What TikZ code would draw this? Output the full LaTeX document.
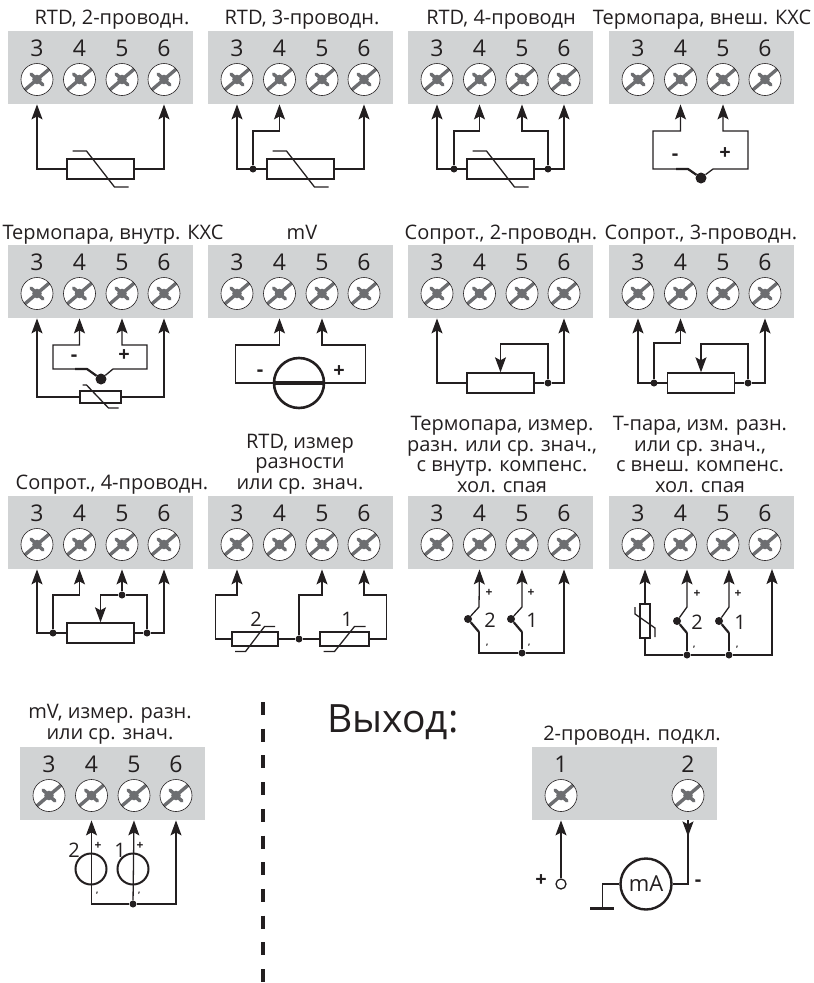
\documentclass[tikz,border=0pt]{standalone}
\usepackage{fontspec}
\setmainfont{Open Sans}
\usepackage{xcolor}
\usepackage{tikz}
\usetikzlibrary{arrows.meta,calc}
\definecolor{blockgray}{HTML}{D1D3D4}
\definecolor{slotgray}{HTML}{6D6E71}
\definecolor{ink}{HTML}{231F20}

\tikzset{
    block/.style={fill=blockgray, minimum width=185pt, minimum height=73pt, inner sep=0pt, anchor=north west},
    digit/.style={text=ink, inner sep=0pt, font=\fontsize{23}{23}\selectfont},
    screw/.style={circle, draw=ink, fill=white, line width=0.6pt, minimum size=32pt, inner sep=0pt,
        path picture={
            \begin{scope}[shift={(path picture bounding box.center)}]
                \draw[slotgray, line width=3.4pt] (-17,14.5) -- (17,-14.5);
                \draw[slotgray, line width=3.4pt, line cap=round] (-6,-5.5) -- (6,5.5);
                \fill[slotgray] (0,0) circle (4.8pt);
            \end{scope}
        }},
    title/.style={text=ink, inner sep=0pt, anchor=base, align=center, font=\fontsize{20}{20.5}\selectfont},
    sign/.style={text=ink, inner sep=0pt, font=\bfseries\fontsize{20}{20}\selectfont},
    smallsign/.style={text=ink, inner sep=0pt, font=\bfseries\fontsize{12}{12}\selectfont},
    minustick/.style={text=ink, inner sep=0pt, font=\bfseries\fontsize{9}{9}\selectfont},
    number/.style={text=ink, inner sep=0pt, font=\fontsize{20}{20}\selectfont},
    wire/.style={draw=ink, line width=1.3pt},
    tcwire/.style={draw=ink, line width=2.2pt},
    pinwire/.style={wire, -{Stealth[length=15pt,width=11pt,inset=3pt]}},
    res/.style={draw=ink, line width=1.4pt, inner sep=0pt, minimum width=67pt, minimum height=20pt},
    smallres/.style={res, minimum width=41pt, minimum height=12pt},
    jdot/.style={circle, fill=ink, minimum size=7pt, inner sep=0pt},
    tcdot/.style={circle, fill=ink, minimum size=11pt, inner sep=0pt},
}

\newcommand{\termblock}[3]{
    \node[block] (#1) at (#2,#3) {};
    \foreach \n/\dx in {3/29,4/71.5,5/114,6/156} {
        \node[digit] (#1d\n) at (#2+\dx,#3+17.5) {\n};
        \node[screw] (#1\n) at (#2+\dx,#3+48.5) {};
    }
}
\newcommand{\tempbar}[4]{
    \draw[wire] ([shift={(-#2,-#3)}]#1.center) -- ([shift={(-#4,-#3)}]#1.center) -- ([shift={(#4,#3)}]#1.center) -- ([shift={(#2,#3)}]#1.center);
}

\begin{document}
\begin{tikzpicture}[x=1pt,y=-1pt]
    \useasboundingbox (0,0) rectangle (814,983);

    \termblock{a}{8}{31}
    \termblock{b}{208}{31}
    \termblock{c}{408}{31}
    \termblock{e}{609}{31}
    \termblock{f}{8}{245}
    \termblock{g}{208}{245}
    \termblock{h}{408}{245}
    \termblock{i}{609}{245}
    \termblock{j}{8}{496}
    \termblock{k}{208}{496}
    \termblock{l}{408}{496}
    \termblock{m}{609}{496}
    \termblock{n}{20}{747}

    \node[title] (ta) at (112,24) {RTD, 2-проводн.};
    \node[title] (tb) at (302,24) {RTD, 3-проводн.};
    \node[title] (tc) at (501,24) {RTD, 4-проводн};
    \node[title] (te) at (702,24) {Термопара, внеш. КХС};
    \node[title] (tf) at (113,239) {Термопара, внутр. КХС};
    \node[title] (tg) at (302,239) {mV};
    \node[title] (th) at (501,239) {Сопрот., 2-проводн.};
    \node[title] (ti) at (701,239) {Сопрот., 3-проводн.};
    \node[title] (tj) at (112,489) {Сопрот., 4-проводн.};
    \node[title] (tk) at (300,489) {RTD, измер\\разности\\или ср. знач.};
    \node[title] (tl) at (502,492) {Термопара, измер.\\разн. или ср. знач.,\\с внутр. компенс.\\хол. спая};
    \node[title] (tm) at (700,492) {Т-пара, изм. разн.\\или ср. знач.,\\с внеш. компенс.\\хол. спая};
    \node[title] (tn) at (110,739) {mV, измер. разн.\\или ср. знач.};

    \node[res] (ar) at (100.5,169) {};
    \tempbar{ar}{28}{18}{14}
    \draw[pinwire] (ar.west) -| (a3 |- a.south);
    \draw[pinwire] (ar.east) -| (a6 |- a.south);

    \node[res] (br) at (300.5,169) {};
    \tempbar{br}{28}{18}{14}
    \node[jdot] (bj) at (253,169) {};
    \draw[pinwire] (br.west) -| (b3 |- b.south);
    \draw[pinwire] (bj) |- ++(13,-38) -| (b4 |- b.south);
    \draw[pinwire] (br.east) -| (b6 |- b.south);

    \node[res] (cr) at (500.5,169) {};
    \tempbar{cr}{28}{18}{14}
    \node[jdot] (cja) at (454,169) {};
    \node[jdot] (cjb) at (548,169) {};
    \draw[pinwire] (cr.west) -| (c3 |- c.south);
    \draw[pinwire] (cja) |- ++(13,-38) -| (c4 |- c.south);
    \draw[pinwire] (cjb) |- ++(-13,-38) -| (c5 |- c.south);
    \draw[pinwire] (cr.east) -| (c6 |- c.south);

    \node[tcdot] (etc) at (701,178) {};
    \draw[pinwire] (etc) -- ++(-13,-9) -- ++(-35,0) |- ++(13,-38) -| (e4 |- e.south);
    \draw[pinwire] (etc) -- ++(12,-9) -- ++(35,0) |- ++(-13,-38) -| (e5 |- e.south);
    \draw[tcwire] (etc) -- ++(-13,-9) -- ++(-12,0);
    \node[sign] (em) at (675,157) {-};
    \node[sign] (ep) at (725,154) {+};

    \node[tcdot] (ftc) at (101,379) {};
    \draw[pinwire] (ftc) -- ++(-14,-10) -- ++(-34,0) |- ++(13,-24) -| (f4 |- f.south);
    \draw[pinwire] (ftc) -- ++(12,-10) -- ++(34,0) |- ++(-12,-24) -| (f5 |- f.south);
    \draw[tcwire] (ftc) -- ++(-14,-10) -- ++(-12,0);
    \node[sign] (fm) at (74,358) {-};
    \node[sign] (fp) at (124,356) {+};
    \node[smallres] (fr) at (100.5,397) {};
    \draw[wire] ([shift={(-18,-12)}]fr.center) -- ([shift={(-14,-12)}]fr.center) -- ([shift={(8,11)}]fr.center) -- ([shift={(18,11)}]fr.center);
    \draw[pinwire] (fr.west) -| (f3 |- f.south);
    \draw[pinwire] (fr.east) -| (f6 |- f.south);

    \node[circle, draw=ink, line width=2.6pt, minimum size=50pt, inner sep=0pt] (gs) at (299,383) {};
    \draw[ink, line width=4.5pt] (gs.west) -- (gs.east);
    \draw[pinwire] (gs.west) -| ++(-37,-38) -| (g4 |- g.south);
    \draw[pinwire] (gs.east) -| ++(40,-38) -| (g5 |- g.south);
    \node[sign] (gm) at (260,373) {-};
    \node[sign] (gp) at (339,372) {+};

    \node[res] (hr) at (500.5,383) {};
    \node[jdot] (hj) at (548,383) {};
    \draw[pinwire] (hr.west) -| (h3 |- h.south);
    \draw[wire] (hr.east) -- (hj);
    \draw[pinwire] (hj) -| (h6 |- h.south);
    \draw[pinwire] (hj) |- ++(-13,-39) -| (hr.north);

    \node[res] (ir) at (701,383) {};
    \node[jdot] (ija) at (654,383) {};
    \node[jdot] (ijb) at (748,383) {};
    \draw[pinwire] (ir.west) -| (i3 |- i.south);
    \draw[pinwire] (ija) |- ++(13,-40) -| (i4 |- i.south);
    \draw[wire] (ir.east) -- (ijb);
    \draw[pinwire] (ijb) -| (i6 |- i.south);
    \draw[pinwire] (ijb) |- ++(-13,-39) -| (ir.north);

    \node[res] (jr) at (100.5,633) {};
    \node[jdot] (jja) at (53,633) {};
    \node[jdot] (jjb) at (147,633) {};
    \node[jdot] (jjc) at (122,595) {};
    \draw[pinwire] (jr.west) -| (j3 |- j.south);
    \draw[pinwire] (jja) |- ++(13,-38) -| (j4 |- j.south);
    \draw[wire] (jr.east) -- (jjb);
    \draw[pinwire] (jjb) -| (j6 |- j.south);
    \draw[wire] (jjb) |- (jjc);
    \draw[pinwire] (jjc) -- (j5 |- j.south);
    \draw[pinwire] (jjc) -| (jr.north);

    \node[res, minimum width=46pt, minimum height=14pt] (krb) at (255,639) {};
    \node[res, minimum width=49pt, minimum height=14pt] (kra) at (344.5,639) {};
    \tempbar{krb}{20}{-12.5}{9.5}
    \tempbar{kra}{21}{-12.5}{10}
    \node[jdot] (kj) at (299,639) {};
    \draw[wire] (krb.east) -- (kj) -- (kra.west);
    \draw[pinwire] (krb.west) -| ++(-16,-44) -| (k3 |- k.south);
    \draw[pinwire] (kj) |- ++(13,-44) -| (k5 |- k.south);
    \draw[pinwire] (kra.east) -| ++(17,-44) -| (k6 |- k.south);
    \node[number] (kb) at (256,619) {2};
    \node[number] (ka) at (347,619) {1};

    \node[jdot] (lj) at (522,653) {};
    \node[tcdot, minimum size=8pt] (lta) at (468,619) {};
    \node[tcdot, minimum size=8pt] (ltb) at (511,619) {};
    \draw[pinwire] (lta) -- ++(11,-12) -- (l4 |- l.south);
    \draw[pinwire] (ltb) -- ++(11,-12) -- (l5 |- l.south);
    \draw[wire] (lta) ++(11,13) -- ++(0,21) -- (lj) -- ++(0,-21);
    \draw[tcwire] (lta) -- ++(11,13);
    \draw[tcwire] (ltb) -- ++(11,13);
    \draw[pinwire] (lj) -| (l6 |- l.south);
    \node[smallsign] (lpb) at (489,593) {+};
    \node[smallsign] (lpa) at (531,593) {+};
    \node[number] (lb) at (490,620) {2};
    \node[number] (la) at (532,620) {1};
    \node[minustick] (lmb) at (487,647) {'};
    \node[minustick] (lma) at (529,647) {'};

    \coordinate (mbot) at (645,655);
    \node[draw=ink, line width=1.2pt, inner sep=0pt, minimum width=10pt, minimum height=34pt] (mr) at (645,621) {};
    \draw[wire] ([shift={(-10,-14)}]mr.center) -- ([shift={(-10,-7)}]mr.center) -- ([shift={(10,7)}]mr.center) -- ([shift={(10,16)}]mr.center);
    \draw[pinwire] (mr.north) -- (mr.north |- m.south);
    \node[jdot] (mja) at (687,655) {};
    \node[jdot] (mjb) at (729,655) {};
    \node[tcdot, minimum size=8pt] (mta) at (677,621) {};
    \node[tcdot, minimum size=8pt] (mtb) at (719,621) {};
    \draw[pinwire] (mta) -- ++(10,-14) -- (mja |- m.south);
    \draw[pinwire] (mtb) -- ++(10,-14) -- (mjb |- m.south);
    \draw[wire] (mr.south) -- (mbot) -- (mja) -- ++(0,-22);
    \draw[wire] (mja) -- (mjb) -- ++(0,-22);
    \draw[tcwire] (mta) -- ++(10,12);
    \draw[tcwire] (mtb) -- ++(10,12);
    \draw[pinwire] (mjb) -| (772,569);
    \node[smallsign] (mpb) at (697,594) {+};
    \node[smallsign] (mpa) at (738,594) {+};
    \node[number] (mb) at (697,622) {2};
    \node[number] (ma) at (740,622) {1};
    \node[minustick] (mmb) at (694,649) {'};
    \node[minustick] (mma) at (737,649) {'};

    \node[circle, draw=ink, line width=2pt, minimum size=31pt, inner sep=0pt] (nsb) at (91,869) {};
    \node[circle, draw=ink, line width=2pt, minimum size=31pt, inner sep=0pt] (nsa) at (133,869) {};
    \node[jdot] (nj) at (133,904) {};
    \draw[pinwire] (nj) -- (n5 |- n.south);
    \draw[pinwire] (nj) -| (n4 |- n.south);
    \draw[pinwire] (nj) -| (n6 |- n.south);
    \node[number] (nb) at (74,850) {2};
    \node[number] (na) at (120,850) {1};
    \node[smallsign] (npb) at (98,846) {+};
    \node[smallsign] (npa) at (140,846) {+};
    \node[minustick] (nmb) at (97,895) {'};
    \node[minustick] (nma) at (139,895) {'};

    \coordinate (sepa) at (263,702);
    \coordinate (sepb) at (263,983);
    \draw[ink, line width=3.6pt, dash pattern=on 13pt off 13.7pt] (sepa) -- (sepb);

    \node[text=ink, inner sep=0pt, anchor=base west, font=\fontsize{39}{39}\selectfont] (out) at (327,732) {Выход:};
    \node[title] (to) at (632,740) {2-проводн. подкл.};
    \node[block] (o) at (532,747) {};
    \foreach \n/\dx in {1/29,2/156} {
        \node[digit] (od\n) at (532+\dx,764.5) {\n};
        \node[screw] (o\n) at (532+\dx,795.5) {};
    }
    \node[circle, draw=ink, fill=white, line width=1.3pt, minimum size=10pt, inner sep=0pt] (oin) at (561,884) {};
    \draw[pinwire] (oin) -- (o1 |- o.south);
    \node[sign] (op) at (541,881) {+};
    \node[circle, draw=ink, line width=2.4pt, minimum size=51pt, inner sep=0pt, text=ink, font=\fontsize{22}{22}\selectfont] (oma) at (646,884) {mA};
    \coordinate (obot) at (o2 |- o.south);
    \draw[wire, -{Stealth[length=15pt,width=11pt,inset=3pt]}] (obot) -- ++(0,16);
    \draw[wire] (oma.east) -| (obot);
    \node[sign] (om) at (698,883) {-};
    \draw[wire] (oma.west) -| ++(-17,24) coordinate (ognd);
    \draw[ink, line width=3pt] ([xshift=-12pt]ognd) -- ([xshift=12pt]ognd);
\end{tikzpicture}
\end{document}
